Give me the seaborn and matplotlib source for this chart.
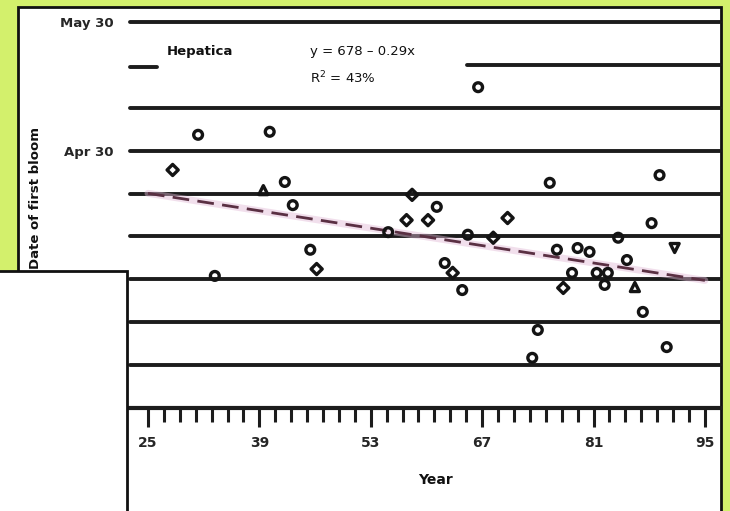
import numpy as np
import pandas as pd
import matplotlib
matplotlib.use("Agg")
import matplotlib.pyplot as plt
from matplotlib.patches import Rectangle
import seaborn as sns

# ---------------- data ----------------
circle_year = [1931.3, 1940.3, 1942.2, 1943.2, 1945.4, 1933.4, 1966.5, 1955.2,
               1961.3, 1965.2, 1962.3, 1964.5, 1974.0, 1973.3, 1975.5, 1989.3,
               1988.3, 1984.1, 1976.4, 1979.0, 1980.5, 1978.3, 1981.4, 1982.8,
               1985.2, 1982.4, 1987.2, 1990.2]
circle_day = [123.7, 124.4, 112.7, 107.3, 96.9, 90.8, 134.8, 101.0,
              106.9, 100.4, 93.8, 87.5, 78.2, 71.7, 112.5, 114.3,
              103.1, 99.7, 96.9, 97.3, 96.4, 91.5, 91.5, 91.5,
              94.5, 88.7, 82.4, 74.2]
diamond_year = [1928.1, 1946.2, 1958.2, 1957.5, 1960.2, 1970.2, 1963.3, 1977.2, 1968.4]
diamond_day = [115.5, 92.4, 109.7, 103.8, 103.8, 104.3, 91.5, 88.0, 99.7]
tri_up_year = [1939.5, 1986.2]
tri_up_day = [110.8, 88.2]
tri_down_year = [1991.2]
tri_down_day = [97.3]

reg_intercept = 668.3
reg_slope = -0.29
reg_years = [1925, 1995]

grid_days = [150, 140, 130, 120, 110, 100, 90, 80, 70]
ytick_days = [150, 120]
ytick_labels = ["May 30", "Apr 30"]
xtick_years = [1925, 1939, 1953, 1967, 1981, 1995]
xtick_labels = ["25", "39", "53", "67", "81", "95"]
minor_years = list(range(1925, 1996, 2))

series_name = "Hepatica"
eq_text = "y = 678 \u2013 0.29x"
r2_text = "R$^2$ = 43%"
x_label = "Year"
y_label = "Date of first bloom"

# ---------------- figure ----------------
sns.set_theme(style="white")
plt.rcParams["font.family"] = ["DejaVu Sans"]

W, H = 730, 511
fig = plt.figure(figsize=(W / 100, H / 100), dpi=100)
fig.patch.set_facecolor("#d3f06c")

def fx(px):
    return px / W

def fy(py):
    return 1 - py / H

# white panel with black border (behind the axes)
panel = Rectangle((fx(18), -0.02), fx(721) - fx(18), fy(7) + 0.02,
                  transform=fig.transFigure, facecolor="white",
                  edgecolor="#111111", linewidth=2)
panel.set_zorder(-5)
fig.patches.append(panel)

ax = fig.add_axes([fx(130), fy(408), fx(720) - fx(130), fy(22) - fy(408)])
ax.set_zorder(1)
ax.set_facecolor("none")
ax.patch.set_alpha(0)
ax.set_xlim(1922.74, 1996.9)
ax.set_ylim(60, 150)

for d in grid_days:
    xmin = (467 - 130) / 590 if d == 140 else 0
    ax.axhline(d, xmin=xmin, xmax=1, color="#1c1c1c", lw=2.8, zorder=1, clip_on=False)

# regression line
reg_df = pd.DataFrame({"year": reg_years,
                       "day": [reg_intercept + reg_slope * y for y in reg_years]})
sns.lineplot(data=reg_df, x="year", y="day", ax=ax, color="#e2b9d6", lw=5,
             alpha=0.45, zorder=2, legend=False)
sns.lineplot(data=reg_df, x="year", y="day", ax=ax, color="#5a3043", lw=2.0,
             zorder=3, legend=False, linestyle=(0, (6, 3)))

groups = [(circle_year, circle_day, "o", 40),
          (diamond_year, diamond_day, "D", 32),
          (tri_up_year, tri_up_day, "^", 42),
          (tri_down_year, tri_down_day, "v", 42)]
for xs, ys, m, s in groups:
    sns.scatterplot(x=xs, y=ys, ax=ax, marker=m, s=s, facecolors="none",
                    edgecolors="#141414", linewidth=2.4, zorder=4, legend=False)

for side in ["top", "right", "left"]:
    ax.spines[side].set_visible(False)
ax.spines["bottom"].set_linewidth(3)
ax.spines["bottom"].set_color("#1c1c1c")

ax.set_xticks(xtick_years)
ax.set_xticklabels(xtick_labels, fontsize=10, fontweight="bold")
ax.set_xticks(minor_years, minor=True)
ax.tick_params(axis="x", which="major", bottom=True, length=13.5, width=2.2,
               color="#1c1c1c", pad=7)
ax.tick_params(axis="x", which="minor", bottom=True, length=10, width=2.2,
               color="#1c1c1c")
ax.set_yticks(ytick_days)
ax.set_yticklabels(ytick_labels, fontsize=9.5, fontweight="bold")
ax.tick_params(axis="y", length=0, pad=12)
ax.set_xlabel("")
ax.set_ylabel("")
ax.grid(False)

# texts
fig.text(fx(435), fy(480), x_label, ha="center", va="center",
         fontsize=10, fontweight="bold", color="#111111")
fig.text(fx(36), fy(127), y_label, ha="center", va="top", rotation=90,
         fontsize=9.5, fontweight="bold", color="#111111")

# legend-like annotation
fig.lines.append(plt.Line2D([fx(130), fx(157)], [fy(67), fy(67)],
                            transform=fig.transFigure, color="#1c1c1c", lw=2.8))
fig.text(fx(167), fy(52), series_name, ha="left", va="center",
         fontsize=9.5, fontweight="bold", color="#111111")
fig.text(fx(310), fy(52), eq_text, ha="left", va="center",
         fontsize=9.5, color="#111111")
fig.text(fx(310), fy(78), r2_text, ha="left", va="center",
         fontsize=9.5, color="#111111")

# white box overlay in the lower-left corner
box = Rectangle((-0.02, -0.02), fx(127) + 0.02, fy(271) + 0.02,
                transform=fig.transFigure, facecolor="white",
                edgecolor="#111111", linewidth=2)
box.set_zorder(10)
fig.patches.append(box)

fig.savefig("out.png", dpi=100, facecolor=fig.get_facecolor())
